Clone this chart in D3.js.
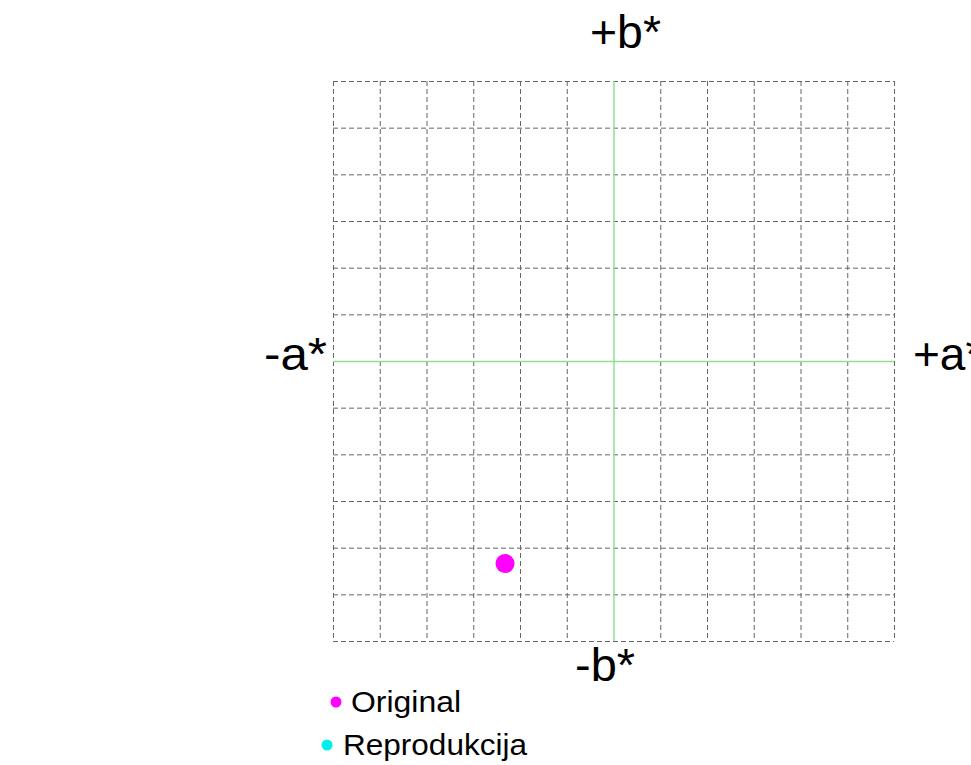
<!DOCTYPE html>
<html>
<head>
<meta charset="utf-8">
<script src="https://cdn.jsdelivr.net/npm/d3@7"></script>
<style>
  body { margin: 0; background: #fff; overflow: hidden; }
  svg { display: block; font-family: "Liberation Sans", Arial, sans-serif; }
</style>
</head>
<body>
<div id="chart"></div>
<script>
// a*b* color difference plot
var gridTicks = [-60, -50, -40, -30, -20, -10, 10, 20, 30, 40, 50, 60];
var original = [{a: -23.2, b: -43.4}];
var reproduction = [];
var legendItems = [
  {name: "Original", color: "#ff00ff"},
  {name: "Reprodukcija", color: "#00eeee"}
];

var width = 971, height = 765;
var plot = {left: 333, right: 894, top: 81, bottom: 641};

var svg = d3.select("#chart")
  .append("svg")
    .attr("width", width)
    .attr("height", height);

var x = d3.scaleLinear().domain([-60, 60]).range([plot.left, plot.right]);
var y = d3.scaleLinear().domain([-60, 60]).range([plot.bottom, plot.top]);

// dashed grid
var grid = svg.append("g")
  .attr("stroke", "#666")
  .attr("stroke-width", 1)
  .attr("stroke-dasharray", "5,3");

grid.selectAll(".v")
  .data(gridTicks)
  .enter().append("line")
    .attr("x1", function(d) { return x(d) + 0.5; })
    .attr("x2", function(d) { return x(d) + 0.5; })
    .attr("y1", plot.top)
    .attr("y2", plot.bottom);

grid.selectAll(".h")
  .data(gridTicks)
  .enter().append("line")
    .attr("y1", function(d) { return y(d) + 0.5; })
    .attr("y2", function(d) { return y(d) + 0.5; })
    .attr("x1", plot.left)
    .attr("x2", plot.right);

// green axes through zero
svg.append("line")
  .attr("x1", x(0) + 0.5).attr("x2", x(0) + 0.5)
  .attr("y1", plot.top).attr("y2", plot.bottom)
  .attr("stroke", "#90e090").attr("stroke-width", 1.5);
svg.append("line")
  .attr("y1", y(0) + 0.5).attr("y2", y(0) + 0.5)
  .attr("x1", plot.left).attr("x2", plot.right)
  .attr("stroke", "#90e090").attr("stroke-width", 1.5);

// axis labels
var labels = svg.append("g").attr("font-size", 46).attr("fill", "#000");
labels.append("text").attr("x", 590).attr("y", 48)
  .attr("textLength", 71).attr("lengthAdjust", "spacingAndGlyphs").text("+b*");
labels.append("text").attr("x", 575).attr("y", 681)
  .attr("textLength", 60).attr("lengthAdjust", "spacingAndGlyphs").text("-b*");
labels.append("text").attr("x", 264).attr("y", 370)
  .attr("textLength", 63).attr("lengthAdjust", "spacingAndGlyphs").text("-a*");
labels.append("text").attr("x", 913).attr("y", 370).text("+a*");

// points
svg.selectAll(".orig")
  .data(original)
  .enter().append("circle")
    .attr("cx", function(d) { return x(d.a); })
    .attr("cy", function(d) { return y(d.b); })
    .attr("r", 9.5)
    .attr("fill", legendItems[0].color);

svg.selectAll(".repr")
  .data(reproduction)
  .enter().append("circle")
    .attr("cx", function(d) { return x(d.a); })
    .attr("cy", function(d) { return y(d.b); })
    .attr("r", 9.5)
    .attr("fill", legendItems[1].color);

// legend
var legendPos = [
  {cx: 336, cy: 702, tx: 351, ty: 712, w: 110},
  {cx: 327, cy: 745, tx: 343, ty: 755, w: 184}
];
var leg = svg.selectAll(".legend")
  .data(legendItems)
  .enter().append("g");
leg.append("circle")
  .attr("cx", function(d, i) { return legendPos[i].cx; })
  .attr("cy", function(d, i) { return legendPos[i].cy; })
  .attr("r", 5.5)
  .attr("fill", function(d) { return d.color; });
leg.append("text")
  .attr("x", function(d, i) { return legendPos[i].tx; })
  .attr("y", function(d, i) { return legendPos[i].ty; })
  .attr("font-size", 29)
  .attr("textLength", function(d, i) { return legendPos[i].w; })
  .attr("lengthAdjust", "spacingAndGlyphs")
  .attr("fill", "#000")
  .text(function(d) { return d.name; });
</script>
</body>
</html>
